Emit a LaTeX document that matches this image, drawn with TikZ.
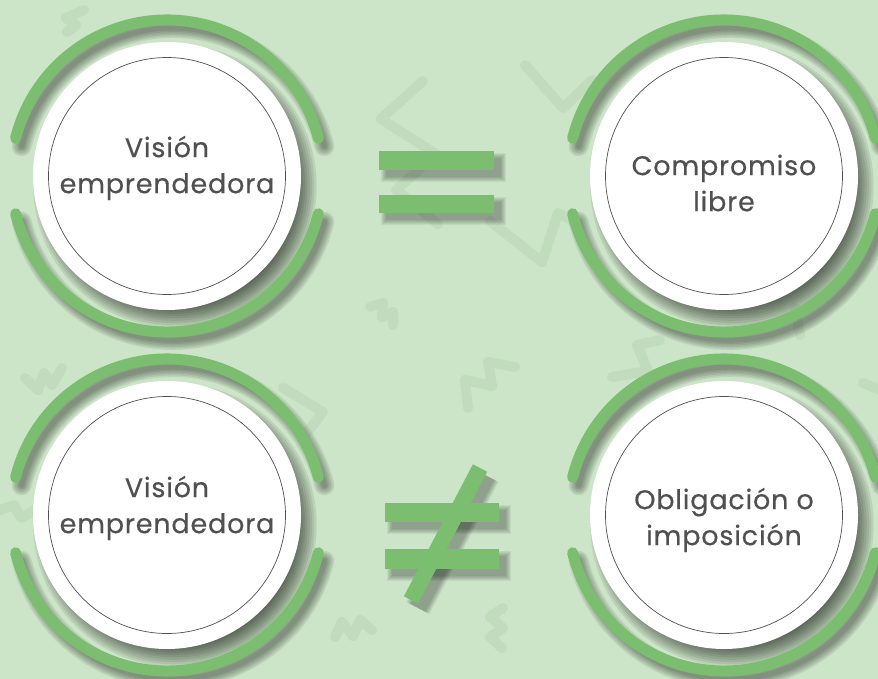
\documentclass[tikz,border=0pt]{standalone}
\usepackage{fontspec}
\setmainfont{Poppins}
\usetikzlibrary{calc, positioning}
\definecolor{bg_green}{HTML}{CCE4C8}
\definecolor{doodle_green}{HTML}{C1DCBD}
\definecolor{ring_green}{HTML}{7BBE6F}
\definecolor{text_gray}{HTML}{505050}
\tikzset{
	doodle/.style={doodle_green, line width=10pt, line cap=round, line join=round},
	ring/.style={ring_green, line width=11pt, line cap=round},
	txt/.style={text=text_gray, align=center, font=\fontsize{27}{36}\selectfont\addfontfeatures{LetterSpace=3,FakeBold=0.4}},
	bar/.style={fill=ring_green},
}

\begin{document}
\begin{tikzpicture}[x=1pt,y=-1pt,line join=round]
		\fill[bg_green] (0,0) rectangle (878,679);
		\useasboundingbox (0,0) rectangle (878,679);
		% faint doodles in the back
		\draw[doodle] (423,81) -- (381,119) -- (436,154) -- (396,190) -- (438,224);
		\draw[doodle] (525,65) -- (563,108) -- (592,80);
		\draw[doodle] (490,221) -- (542,262) -- (558,213) -- (576,222);
		\draw[doodle] (370,307) -- (383,303) -- (382,317) -- (393,312) -- (393,325);
		\draw[doodle] (468,408) -- (465,380) -- (492,386) -- (488,362) -- (515,367);
		\draw[doodle] (335,637) -- (342,622) -- (353,636) -- (360,620) -- (372,630);
		\draw[doodle] (503,608) -- (490,617) -- (503,628) -- (490,637) -- (502,648);
		\draw[doodle] (612,377) -- (648,371) -- (637,345) -- (660,340);
		\draw[doodle] (800,335) -- (795,308);
		\draw[doodle] (863,383) -- (885,392);
		\draw[doodle] (25,378) -- (38,390) -- (44,373) -- (52,385) -- (62,368);
		\draw[doodle] (283,388) -- (323,412) -- (305,435);
		\draw[doodle] (84,10) -- (66,18) -- (76,25) -- (67,32);
		\draw[doodle] (-5,512) -- (14,505) -- (21,518) -- (35,510);
		% circles
		\coordinate (c1) at (167,176);
		\coordinate (c2) at (724,176);
		\coordinate (c3) at (167,515);
		\coordinate (c4) at (724,515);
		\foreach \c in {c1,c2,c3,c4}
		{
			\foreach \k in {0,...,9}
				\fill[black, opacity=0.08] ($(\c)+(8,10)$) circle ({121+2.3*\k});
			\foreach \k in {0,...,5}
			{
				\draw[black, opacity=0.07, line width={5+3*\k}, line cap=round] ($(\c)+(6,8)+(194:156)$) arc[start angle=194, end angle=346, radius=156];
				\draw[black, opacity=0.07, line width={5+3*\k}, line cap=round] ($(\c)+(6,8)+(14:156)$) arc[start angle=14, end angle=166, radius=156];
			}
			\fill[white] (\c) circle (134);
			\draw[text_gray, line width=0.7pt] (\c) circle (118.5);
			\draw[ring] ($(\c)+(194:156)$) arc[start angle=194, end angle=346, radius=156];
			\draw[ring] ($(\c)+(14:156)$) arc[start angle=14, end angle=166, radius=156];
		}
		\node[txt] (ve1) at (167,168) {Visión\\emprendedora};
		\node[txt] (cl)  at (724,183) {Compromiso\\libre};
		\node[txt] (ve2) at (167,508) {Visión\\emprendedora};
		\node[txt] (oi)  at (724,520) {Obligación o\\imposición};
		% equal sign
		\foreach \k in {0,...,5}
		{
			\fill[black, opacity=0.055] ({386-\k},{158-\k}) rectangle ({501+\k},{177+\k});
			\fill[black, opacity=0.055] ({386-\k},{202-\k}) rectangle ({501+\k},{220+\k});
		}
		\fill[bar] (379,151) rectangle (494,170);
		\fill[bar] (379,195) rectangle (494,213);
		% not equal sign
		\foreach \k in {0,...,5}
		{
			\fill[black, opacity=0.055] ({392-\k},{510-\k}) rectangle ({506+\k},{529+\k});
			\fill[black, opacity=0.055] ({392-\k},{556-\k}) rectangle ({506+\k},{576+\k});
			\draw[black, opacity=0.055, line width={16+2*\k}] (487,476) -- (418,608);
		}
		\fill[bar] (385,503) rectangle (499,522);
		\fill[bar] (385,549) rectangle (499,569);
		\draw[ring_green, line width=16pt] (480,468) -- (411,600);
	\end{tikzpicture}
\end{document}
